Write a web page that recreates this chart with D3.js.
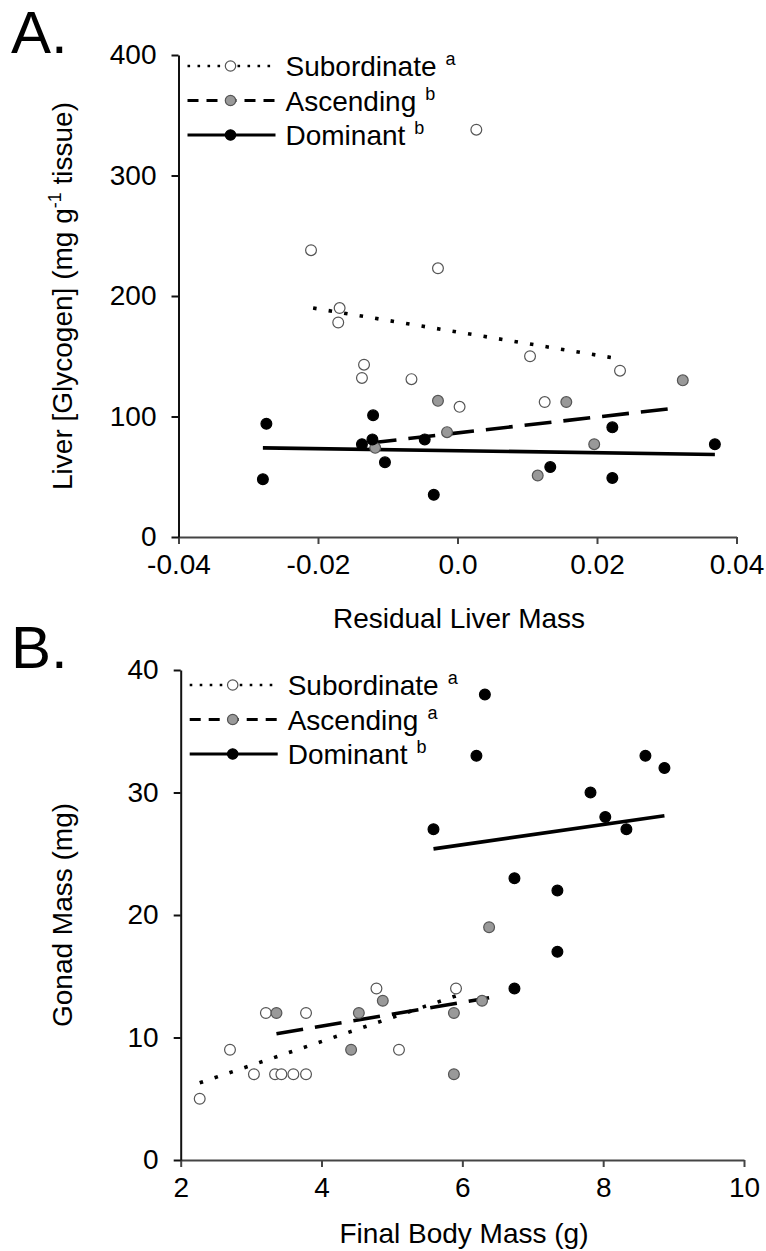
<!DOCTYPE html>
<html>
<head>
<meta charset="utf-8">
<script src="https://cdn.jsdelivr.net/npm/d3@7"></script>
<style>
  body { margin: 0; background: #fff; }
  svg text { font-family: "Liberation Sans", Arial, Helvetica, sans-serif; fill: #000; }
</style>
</head>
<body>
<svg id="chart" width="766" height="1251"></svg>
<script>
// ---- Panel A data: residual liver mass vs liver glycogen ----
const subA = [[-0.0210, 238], [-0.0028, 223], [-0.0169, 190], [-0.0171, 178], [-0.0134, 143], [-0.0137, 132],
              [-0.0066, 131], [0.0003, 108], [0.0104, 150], [0.0233, 138], [0.0125, 112], [0.0027, 338]];
const ascA = [[-0.0028, 113], [-0.0015, 87], [-0.0118, 74], [0.0323, 130], [0.0156, 112], [0.0196, 77], [0.0115, 51]];
const domA = [[-0.0274, 94], [-0.0121, 101], [-0.0137, 77], [-0.0122, 81], [-0.0047, 81], [-0.0104, 62],
              [-0.0279, 48], [-0.0034, 35], [0.0222, 91], [0.0369, 77], [0.0133, 58], [0.0222, 49]];
const subFitA = [[-0.0207, 190], [0.0220, 149]];
const ascFitA = [[-0.0126, 78], [0.0312, 107]];
const domFitA = [[-0.0279, 74], [0.0369, 68.5]];
const xTicksA = [-0.04, -0.02, 0, 0.02, 0.04];
const xTickLabelsA = ["-0.04", "-0.02", "0.0", "0.02", "0.04"];
const yTicksA = [0, 100, 200, 300, 400];
const lettersA = ["a", "b", "b"];

// ---- Panel B data: final body mass vs gonad mass ----
const subB = [[4.78, 14], [5.91, 14], [3.21, 12], [3.78, 12], [2.70, 9], [5.10, 9], [3.04, 7], [3.34, 7],
              [3.43, 7], [3.60, 7], [3.78, 7], [2.27, 5]];
const ascB = [[6.38, 19], [4.87, 13], [6.28, 13], [3.36, 12], [4.53, 12], [5.88, 12], [4.42, 9], [5.88, 7]];
const domB = [[6.32, 38], [6.20, 33], [8.60, 33], [8.87, 32], [7.82, 30], [8.03, 28], [5.59, 27], [8.33, 27],
              [6.74, 23], [7.35, 22], [7.35, 17], [6.74, 14]];
const subFitB = [[2.27, 6.3], [5.91, 13.4]];
const ascFitB = [[3.36, 10.3], [6.38, 13.25]];
const domFitB = [[5.59, 25.4], [8.87, 28.1]];
const xTicksB = [2, 4, 6, 8, 10];
const xTickLabelsB = ["2", "4", "6", "8", "10"];
const yTicksB = [0, 10, 20, 30, 40];
const lettersB = ["a", "a", "b"];

const groupNames = ["Subordinate", "Ascending", "Dominant"];

// marker + line styles per group
const styles = [
  { fill: "#fff", stroke: "#555", dash: "3.5,12.2", legendDash: "2.6,7.4" },
  { fill: "#999", stroke: "#555", dash: "27,12", legendDash: "11,8" },
  { fill: "#000", stroke: "#000", dash: null, legendDash: null }
];

const svg = d3.select("#chart");

function drawPanel(p) {
  const x = d3.scaleLinear().domain(p.xDomain).range(p.xRange);
  const y = d3.scaleLinear().domain(p.yDomain).range(p.yRange);
  const g = svg.append("g");

  // panel letter
  g.append("text").attr("x", 11).attr("y", p.yRange[1] - 2)
    .attr("font-size", 60).text(p.letter);

  // axes
  const ax = g.append("g").attr("transform", `translate(0,${p.yRange[0]})`)
    .call(d3.axisBottom(x).tickValues(p.xTicks).tickFormat((d, i) => p.xTickLabels[i])
      .tickSizeInner(7).tickSizeOuter(0).tickPadding(10));
  ax.attr("font-size", 28).attr("color", "#444");
  ax.selectAll("text").attr("fill", "#000");
  ax.selectAll("path, line").attr("stroke-width", 2);

  const ay = g.append("g").attr("transform", `translate(${p.xRange[0]},0)`)
    .call(d3.axisLeft(y).tickValues(p.yTicks).tickSizeInner(7).tickSizeOuter(0).tickPadding(15));
  ay.attr("font-size", 28).attr("color", "#111");
  ay.selectAll("path, line").attr("stroke-width", 2);

  // axis titles
  g.append("text").attr("x", p.xTitleX).attr("y", p.xTitleY)
    .attr("text-anchor", "middle").attr("font-size", 28).text(p.xTitle);

  const yt = g.append("text")
    .attr("transform", `translate(72,${(p.yRange[0] + p.yRange[1]) / 2}) rotate(-90)`)
    .attr("text-anchor", "middle").attr("font-size", 28);
  p.yTitle.forEach(part => {
    const t = yt.append("tspan").text(part.t);
    if (part.sup) t.attr("font-size", 18).attr("dy", -11);
    if (part.after) t.attr("dy", 11);
  });

  // fit lines
  const line = d3.line().x(d => x(d[0])).y(d => y(d[1]));
  p.fits.forEach((f, i) => {
    g.append("path").datum(f).attr("d", line)
      .attr("fill", "none").attr("stroke", "#000").attr("stroke-width", 3.6)
      .attr("stroke-dasharray", styles[i].dash);
  });

  // points
  p.series.forEach((s, i) => {
    g.append("g").selectAll("circle").data(s).join("circle")
      .attr("cx", d => x(d[0])).attr("cy", d => y(d[1])).attr("r", 5.4)
      .attr("fill", styles[i].fill).attr("stroke", styles[i].stroke).attr("stroke-width", 1.2);
  });

  // legend
  const lx = p.xRange[0];
  groupNames.forEach((name, i) => {
    const ly = p.legendY + i * 34.5;
    g.append("line").attr("x1", lx + 9).attr("x2", lx + 97).attr("y1", ly).attr("y2", ly)
      .attr("stroke", "#000").attr("stroke-width", i === 0 ? 2.6 : 3.2)
      .attr("stroke-dasharray", styles[i].legendDash);
    g.append("circle").attr("cx", lx + 52).attr("cy", ly).attr("r", 5.2)
      .attr("fill", styles[i].fill).attr("stroke", styles[i].stroke).attr("stroke-width", 1.2);
    const t = g.append("text").attr("x", lx + 107).attr("y", ly + 10).attr("font-size", 28).text(name);
    t.append("tspan").attr("font-size", 18).attr("dx", 9).attr("dy", -11).text(p.letters[i]);
  });
}

drawPanel({
  letter: "A.",
  xDomain: [-0.04, 0.04], xRange: [178.5, 736.5],
  yDomain: [0, 400], yRange: [537, 55],
  xTicks: xTicksA, xTickLabels: xTickLabelsA, yTicks: yTicksA,
  xTitle: "Residual Liver Mass", xTitleX: 459, xTitleY: 628,
  yTitle: [{ t: "Liver [Glycogen] (mg g" }, { t: "-1", sup: true }, { t: " tissue)", after: true }],
  series: [subA, ascA, domA], fits: [subFitA, ascFitA, domFitA],
  legendY: 66, letters: lettersA
});

drawPanel({
  letter: "B.",
  xDomain: [2, 10], xRange: [180.7, 744],
  yDomain: [0, 40], yRange: [1160, 670],
  xTicks: xTicksB, xTickLabels: xTickLabelsB, yTicks: yTicksB,
  xTitle: "Final Body Mass (g)", xTitleX: 464, xTitleY: 1243,
  yTitle: [{ t: "Gonad Mass (mg)" }],
  series: [subB, ascB, domB], fits: [subFitB, ascFitB, domFitB],
  legendY: 685, letters: lettersB
});
</script>
</body>
</html>
